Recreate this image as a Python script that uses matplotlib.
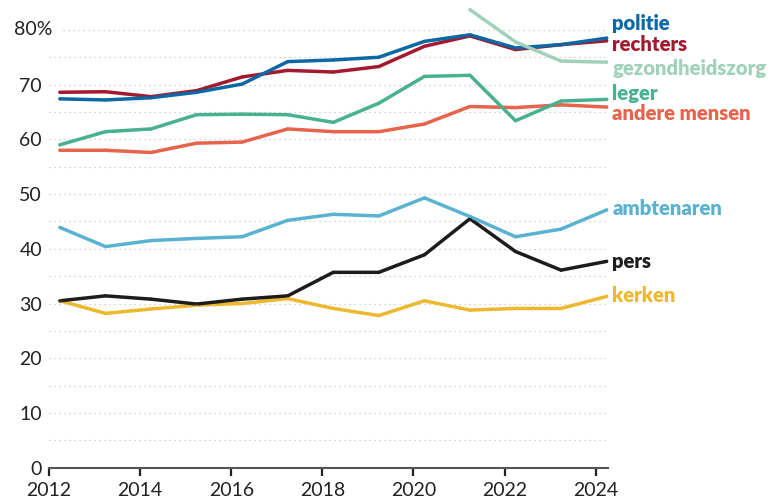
import matplotlib.pyplot as plt
import numpy as np

# survey years (fieldwork early in the year, so points sit a bit after Jan 1)
years = np.arange(2012, 2025)
offset = 0.24

politie = [67.4, 67.2, 67.6, 68.6, 70.1, 74.2, 74.5, 75.0, 77.9, 79.1, 76.7, 77.3, 78.5]
rechters = [68.6, 68.7, 67.8, 68.9, 71.4, 72.6, 72.3, 73.3, 77.0, 78.9, 76.4, 77.3, 78.0]
leger = [59.0, 61.4, 61.9, 64.5, 64.6, 64.5, 63.1, 66.6, 71.5, 71.7, 63.4, 67.0, 67.3]
andere_mensen = [58.0, 58.0, 57.6, 59.3, 59.5, 61.9, 61.4, 61.4, 62.8, 66.0, 65.8, 66.3, 65.9]
ambtenaren = [43.9, 40.4, 41.5, 41.9, 42.2, 45.2, 46.3, 46.0, 49.3, 45.9, 42.2, 43.6, 47.1]
pers = [30.5, 31.4, 30.8, 29.9, 30.8, 31.4, 35.7, 35.7, 38.9, 45.5, 39.5, 36.1, 37.7]
kerken = [30.5, 28.2, 29.0, 29.7, 30.0, 30.9, 29.1, 27.8, 30.5, 28.8, 29.1, 29.1, 31.3]

zorg_years = np.arange(2021, 2025)
gezondheidszorg = [83.7, 77.8, 74.3, 74.1]

# drawing order: back to front
series = [
    ("kerken", years, kerken, "#ecb92e", 31.5),
    ("pers", years, pers, "#1e1b1b", 37.6),
    ("ambtenaren", years, ambtenaren, "#58b2d0", 47.3),
    ("andere mensen", years, andere_mensen, "#e6634c", 64.8),
    ("leger", years, leger, "#47b192", 68.3),
    ("rechters", years, rechters, "#a3192f", 77.4),
    ("politie", years, politie, "#0b68a4", 81.2),
    ("gezondheidszorg", zorg_years, gezondheidszorg, "#a0d1bb", 72.9),
]

plt.rcParams["font.family"] = ["Lato", "DejaVu Sans"]

fig = plt.figure(figsize=(7.71, 5.01), dpi=100)
ax = fig.add_axes([49 / 771, 1 - 467.7 / 501, (608 - 49) / 771, (467.7 - 8) / 501])

ax.set_xlim(2012, 2024.27)
ax.set_ylim(0, 84)

# dotted gridlines
for v in range(5, 80, 5):
    ax.hlines(v, 2012, 2024.2, color="#c4c4c4", lw=0.9, linestyles=(0, (1, 3)), zorder=0)
ax.hlines(80, 2012.31, 2024.2, color="#c4c4c4", lw=0.9, linestyles=(0, (1, 3)), zorder=0)

for name, xs, ys, col, label_y in series:
    ax.plot(np.array(xs) + offset, ys, color=col, lw=2.5, clip_on=False,
            solid_capstyle="round", solid_joinstyle="round")
    ax.scatter(np.array(xs) + offset, ys, s=5, color=col, edgecolor="none",
               zorder=3, clip_on=False, alpha=0.9)
    ax.annotate(name, xy=(1, label_y), xycoords=("axes fraction", "data"),
                xytext=(3, 0), textcoords="offset points", ha="left", va="center",
                color=col, fontsize=14.6, fontweight="heavy", annotation_clip=False)

for s in ["top", "right", "left"]:
    ax.spines[s].set_visible(False)
ax.spines["bottom"].set_color("#555555")
ax.spines["bottom"].set_linewidth(1.5)

ax.set_xticks(range(2012, 2025, 2))
ax.tick_params(axis="x", length=6, width=1.6, color="#222222", pad=4,
               labelsize=14, labelcolor="#222222")

ax.set_yticks(range(0, 80, 10))
ax.tick_params(axis="y", length=0, pad=5, labelsize=14, labelcolor="#222222")
ax.annotate("80%", xy=(0, 80), xycoords=("axes fraction", "data"),
            xytext=(-25, 0), textcoords="offset points", ha="left", va="center",
            fontsize=14, color="#222222", annotation_clip=False)

fig.savefig("out.png", dpi=100)
